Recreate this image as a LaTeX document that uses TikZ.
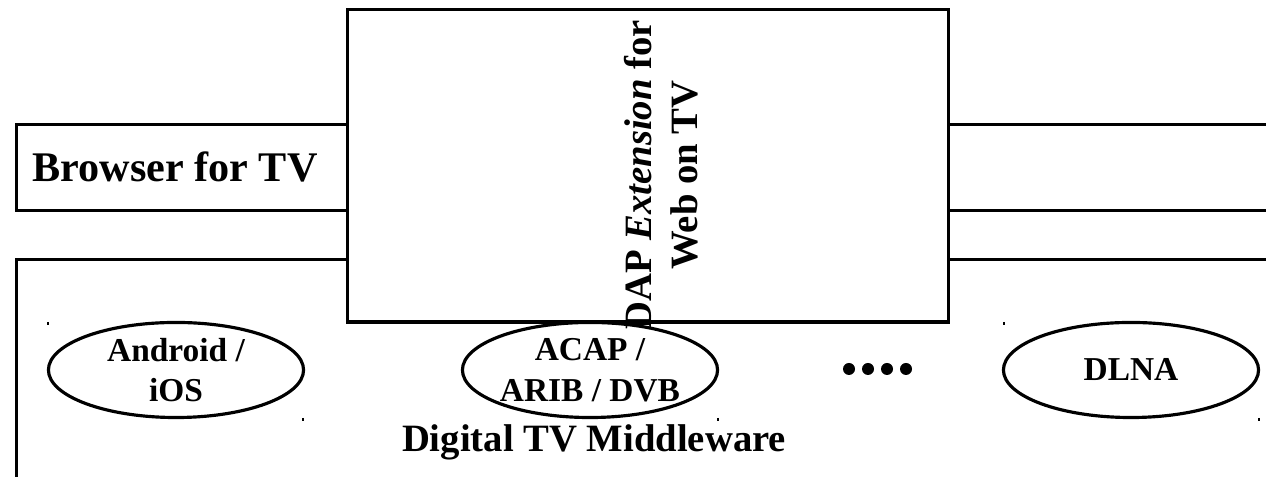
\documentclass[tikz,border=0pt]{standalone}
\usepackage{fontspec}
\setmainfont{Liberation Serif}
\usetikzlibrary{shapes.geometric,positioning}

\begin{document}
\begin{tikzpicture}[x=0.01cm,y=-0.01cm,line width=0.9pt,
	layer/.style={draw,rectangle,anchor=north west,inner sep=0pt},
	dapbox/.style={draw,fill=white,rectangle,minimum width=6cm,minimum height=3.12cm},
	mware/.style={draw,ellipse,minimum width=2.55cm,minimum height=0.95cm,inner sep=0pt,align=center,font=\bfseries\fontsize{9.5}{11.5}\selectfont},
	handle/.style={line width=0.4pt}]
	
	\useasboundingbox (0,0) rectangle (1266,477);
	\clip (0,0) rectangle (1266,477);
	
	\node[layer,minimum width=13cm,minimum height=0.86cm] (browser) at (15,123) {};
	\node[layer,minimum width=13cm,minimum height=3cm]    (middle)  at (15,258) {};
	\node[dapbox] (dap) at (648,166) {};
	
	\node[font=\bfseries\fontsize{12}{14}\selectfont] (browsertxt) at (175,167) {Browser for TV};
	\node[rotate=90,align=center,font=\bfseries\fontsize{11}{13}\selectfont] (daptxt) at (661,175)
		{DAP \textit{Extension} for\\Web on TV};
	
	\node[mware] (android) at (176,370)  {Android /\\iOS};
	\node[mware] (acap)    at (590,370)  {ACAP /\\ARIB / DVB};
	\node[mware] (dlna)    at (1131,370) {DLNA};
	\foreach \k in {0,...,3} \fill (849+19*\k,369) circle[radius=0.6mm];
	
	\node[font=\bfseries\fontsize{11}{13}\selectfont] (mwtxt) at (594,442) {Digital TV Middleware};
	
	% small handles left on the ellipses
	\foreach \p in {(48,322),(303,418),(718,418),(1004,322),(1259,418)}
		\draw[handle] \p -- ++(0,3);
\end{tikzpicture}
\end{document}
